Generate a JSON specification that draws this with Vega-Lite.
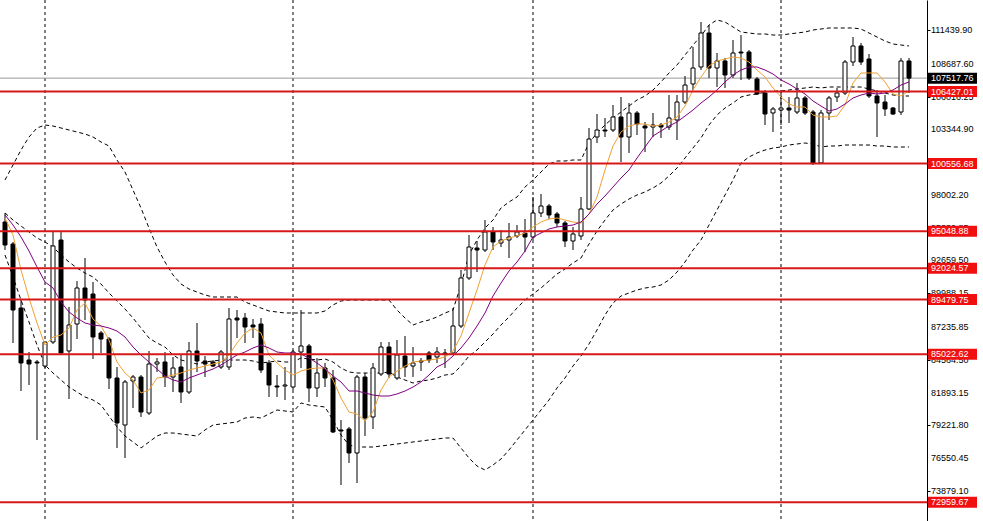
{
"$schema":"https://vega.github.io/schema/vega-lite/v6.json",
"width":927,"height":521,"padding":{"left":0,"top":0,"right":56,"bottom":0},"autosize":{"type":"none"},
"background":"white",
"config":{"view":{"stroke":null},"scale":{"continuousPadding":0},
 "axis":{"labelOverlap":false,"tickColor":"black","tickSize":3,"domainColor":"black","grid":false,"title":null}},
"datasets":{
"c":[
{"i":0,"o":95795,"h":96529,"l":93514,"c":93921,"f":96121,"s":96366,"u":99218,"m":96529,"d":93107},
{"i":1,"o":94003,"h":94166,"l":85936,"c":88625,"f":94736,"s":95551,"u":100440,"m":95958,"d":91314},
{"i":2,"o":88788,"h":89440,"l":82025,"c":84307,"f":91884,"s":94573,"u":101662,"m":95470,"d":89440},
{"i":3,"o":84551,"h":85203,"l":82514,"c":84225,"f":89603,"s":93433,"u":102721,"m":94981,"d":87648},
{"i":4,"o":84388,"h":84551,"l":78033,"c":84307,"f":87566,"s":92129,"u":103455,"m":94492,"d":85773},
{"i":5,"o":84062,"h":86018,"l":83899,"c":86018,"f":85773,"s":90907,"u":103699,"m":94166,"d":84144},
{"i":6,"o":86018,"h":94981,"l":85855,"c":93840,"f":86425,"s":90418,"u":103618,"m":93758,"d":83492},
{"i":7,"o":94329,"h":94981,"l":84959,"c":85122,"f":86588,"s":89277,"u":103455,"m":93107,"d":82922},
{"i":8,"o":85285,"h":88870,"l":81373,"c":87403,"f":87159,"s":88462,"u":103292,"m":92536,"d":82351},
{"i":9,"o":87484,"h":90988,"l":86262,"c":90418,"f":88625,"s":87973,"u":103129,"m":92047,"d":81944},
{"i":10,"o":90418,"h":92862,"l":87810,"c":89440,"f":89196,"s":87566,"u":102966,"m":91640,"d":81536},
{"i":11,"o":89929,"h":90907,"l":84633,"c":86425,"f":87892,"s":87403,"u":102721,"m":91314,"d":81292},
{"i":12,"o":86751,"h":86914,"l":85122,"c":86262,"f":87322,"s":87322,"u":102314,"m":90744,"d":80885},
{"i":13,"o":86262,"h":86425,"l":82188,"c":83085,"f":86181,"s":87159,"u":101988,"m":90011,"d":79988},
{"i":14,"o":83085,"h":83981,"l":77381,"c":79418,"f":84388,"s":86914,"u":100847,"m":89359,"d":79092},
{"i":15,"o":79255,"h":82922,"l":76566,"c":82759,"f":83492,"s":86425,"u":99869,"m":88707,"d":78359},
{"i":16,"o":82840,"h":83329,"l":80640,"c":83166,"f":82922,"s":85610,"u":98403,"m":87973,"d":77870},
{"i":17,"o":83166,"h":83329,"l":79907,"c":80314,"f":81862,"s":84959,"u":96936,"m":87159,"d":77381},
{"i":18,"o":80233,"h":85285,"l":80070,"c":84225,"f":82107,"s":84388,"u":95307,"m":86344,"d":77870},
{"i":19,"o":84225,"h":84714,"l":83573,"c":84388,"f":83085,"s":83818,"u":93758,"m":85936,"d":78359},
{"i":20,"o":84388,"h":85203,"l":82351,"c":83166,"f":83166,"s":83248,"u":92536,"m":85610,"d":78603},
{"i":21,"o":83166,"h":84796,"l":81944,"c":83899,"f":83329,"s":82922,"u":91477,"m":84959,"d":78603},
{"i":22,"o":83981,"h":84959,"l":81048,"c":81944,"f":83492,"s":82759,"u":90744,"m":84551,"d":78522},
{"i":23,"o":81944,"h":86018,"l":81781,"c":85285,"f":83736,"s":83085,"u":90336,"m":84388,"d":78440},
{"i":24,"o":85285,"h":87566,"l":83573,"c":84470,"f":83899,"s":83329,"u":90092,"m":84225,"d":78359},
{"i":25,"o":84470,"h":84877,"l":83166,"c":84225,"f":84062,"s":83573,"u":89847,"m":84388,"d":78848},
{"i":26,"o":84388,"h":84551,"l":83981,"c":84062,"f":84225,"s":83818,"u":89684,"m":84470,"d":79255},
{"i":27,"o":83981,"h":85366,"l":83818,"c":85203,"f":84388,"s":84144,"u":89684,"m":84551,"d":79336},
{"i":28,"o":83981,"h":88788,"l":83736,"c":87892,"f":84959,"s":84551,"u":89684,"m":84551,"d":79418},
{"i":29,"o":87973,"h":88625,"l":86344,"c":87810,"f":85936,"s":84959,"u":89684,"m":84551,"d":79499},
{"i":30,"o":87973,"h":88381,"l":85936,"c":87240,"f":86751,"s":85203,"u":89277,"m":84551,"d":79825},
{"i":31,"o":87403,"h":87892,"l":86344,"c":87240,"f":87159,"s":85529,"u":89033,"m":84470,"d":79907},
{"i":32,"o":87484,"h":87973,"l":83492,"c":83736,"f":86751,"s":85773,"u":88788,"m":84307,"d":79825},
{"i":33,"o":84307,"h":84551,"l":81536,"c":82514,"f":84959,"s":85529,"u":88544,"m":84388,"d":80151},
{"i":34,"o":82433,"h":83329,"l":81536,"c":82351,"f":84307,"s":85203,"u":88462,"m":84470,"d":80477},
{"i":35,"o":82433,"h":83981,"l":81292,"c":82514,"f":83736,"s":85122,"u":88381,"m":84388,"d":80396},
{"i":36,"o":82351,"h":85366,"l":82107,"c":85203,"f":83329,"s":85122,"u":88381,"m":84388,"d":80314},
{"i":37,"o":85203,"h":88625,"l":83899,"c":85692,"f":83655,"s":85040,"u":88381,"m":84714,"d":81048},
{"i":38,"o":85692,"h":85855,"l":81129,"c":82270,"f":83818,"s":84714,"u":88381,"m":84633,"d":80885},
{"i":39,"o":82270,"h":84714,"l":81536,"c":83492,"f":83899,"s":84307,"u":88381,"m":84551,"d":80803},
{"i":40,"o":83899,"h":84307,"l":82351,"c":83085,"f":83899,"s":83818,"u":88544,"m":84633,"d":80722},
{"i":41,"o":83085,"h":83736,"l":78603,"c":78685,"f":82922,"s":83248,"u":89033,"m":84388,"d":79662},
{"i":42,"o":78848,"h":79662,"l":74366,"c":78766,"f":81455,"s":82759,"u":89359,"m":83899,"d":78440},
{"i":43,"o":78929,"h":79092,"l":76159,"c":76974,"f":80314,"s":82025,"u":89440,"m":83573,"d":77625},
{"i":44,"o":76974,"h":83329,"l":74529,"c":83166,"f":80151,"s":82025,"u":89440,"m":83492,"d":77462},
{"i":45,"o":83166,"h":83492,"l":78359,"c":79825,"f":79581,"s":81862,"u":89440,"m":83492,"d":77462},
{"i":46,"o":79907,"h":84307,"l":78929,"c":83899,"f":80314,"s":81699,"u":89440,"m":83492,"d":77462},
{"i":47,"o":83410,"h":86018,"l":83248,"c":85610,"f":82107,"s":81618,"u":89440,"m":83492,"d":77544},
{"i":48,"o":85610,"h":86018,"l":83085,"c":83410,"f":83166,"s":81618,"u":89440,"m":83573,"d":77625},
{"i":49,"o":83085,"h":86181,"l":82922,"c":84959,"f":83655,"s":81781,"u":88625,"m":83166,"d":77707},
{"i":50,"o":84877,"h":86507,"l":83166,"c":83981,"f":84062,"s":82025,"u":87973,"m":82922,"d":77788},
{"i":51,"o":84062,"h":85610,"l":83166,"c":84307,"f":84388,"s":82351,"u":87403,"m":82677,"d":77870},
{"i":52,"o":84388,"h":84714,"l":83655,"c":84470,"f":84470,"s":82759,"u":87648,"m":82840,"d":77951},
{"i":53,"o":85122,"h":85285,"l":84307,"c":84551,"f":84551,"s":83329,"u":87810,"m":82922,"d":78033},
{"i":54,"o":84796,"h":85610,"l":84307,"c":85203,"f":84633,"s":83981,"u":88055,"m":83085,"d":78114},
{"i":55,"o":85122,"h":85447,"l":83899,"c":85040,"f":84796,"s":84307,"u":88381,"m":83329,"d":78196},
{"i":56,"o":85122,"h":88788,"l":84959,"c":87322,"f":85285,"s":84877,"u":88625,"m":83410,"d":78196},
{"i":57,"o":87322,"h":91884,"l":87159,"c":91233,"f":86507,"s":85529,"u":90662,"m":84062,"d":77381},
{"i":58,"o":91233,"h":94736,"l":91070,"c":93758,"f":88381,"s":86344,"u":93107,"m":84877,"d":76566},
{"i":59,"o":93677,"h":94247,"l":91721,"c":93514,"f":90255,"s":87322,"u":94329,"m":85366,"d":75915},
{"i":60,"o":93514,"h":95958,"l":93351,"c":94981,"f":92292,"s":88381,"u":95307,"m":86018,"d":75588},
{"i":61,"o":94981,"h":95388,"l":93514,"c":94166,"f":93758,"s":89766,"u":95958,"m":86670,"d":75996},
{"i":62,"o":94084,"h":95144,"l":93758,"c":94329,"f":94247,"s":90825,"u":96936,"m":87403,"d":76485},
{"i":63,"o":94329,"h":95714,"l":92862,"c":94573,"f":94492,"s":91803,"u":97425,"m":88055,"d":77218},
{"i":64,"o":94655,"h":95551,"l":94492,"c":94981,"f":94655,"s":92536,"u":97832,"m":88788,"d":78033},
{"i":65,"o":94899,"h":96040,"l":93351,"c":94573,"f":94899,"s":93433,"u":98647,"m":89440,"d":78848},
{"i":66,"o":94573,"h":97832,"l":94329,"c":96529,"f":95388,"s":94573,"u":99218,"m":89929,"d":79662},
{"i":67,"o":96529,"h":98077,"l":96203,"c":97099,"f":95795,"s":94899,"u":99869,"m":90418,"d":80477},
{"i":68,"o":97099,"h":97262,"l":96040,"c":96366,"f":96040,"s":95225,"u":100521,"m":90988,"d":81292},
{"i":69,"o":96448,"h":96610,"l":95388,"c":95714,"f":96121,"s":95388,"u":100766,"m":91558,"d":82270},
{"i":70,"o":95714,"h":95877,"l":93758,"c":94247,"f":95958,"s":95470,"u":100766,"m":91966,"d":83085},
{"i":71,"o":94247,"h":95388,"l":93514,"c":94818,"f":95795,"s":95551,"u":100847,"m":92455,"d":84062},
{"i":72,"o":94655,"h":97832,"l":94329,"c":96855,"f":95714,"s":95795,"u":100847,"m":92862,"d":84877},
{"i":73,"o":96855,"h":103455,"l":96773,"c":102558,"f":96448,"s":96448,"u":102232,"m":94003,"d":85855},
{"i":74,"o":102721,"h":104595,"l":102232,"c":103292,"f":97832,"s":97262,"u":103047,"m":95063,"d":86996},
{"i":75,"o":103292,"h":104269,"l":102721,"c":103210,"f":100032,"s":97914,"u":103699,"m":95958,"d":88218},
{"i":76,"o":103292,"h":105329,"l":103129,"c":104351,"f":101988,"s":98647,"u":104269,"m":96773,"d":89196},
{"i":77,"o":104351,"h":105980,"l":100684,"c":102721,"f":103129,"s":99381,"u":104758,"m":97262,"d":89766},
{"i":78,"o":102721,"h":105492,"l":101418,"c":104677,"f":103618,"s":100032,"u":105247,"m":97669,"d":90011},
{"i":79,"o":104677,"h":104840,"l":102884,"c":103780,"f":103780,"s":101010,"u":105736,"m":97995,"d":90255},
{"i":80,"o":103618,"h":103943,"l":101499,"c":103455,"f":103780,"s":101906,"u":106062,"m":98240,"d":90418},
{"i":81,"o":103536,"h":104677,"l":102721,"c":103699,"f":103618,"s":102803,"u":106551,"m":98566,"d":90499},
{"i":82,"o":103699,"h":103862,"l":102640,"c":103536,"f":103699,"s":103210,"u":107203,"m":98973,"d":90662},
{"i":83,"o":103536,"h":106143,"l":103292,"c":104269,"f":103943,"s":103618,"u":107936,"m":99544,"d":91070},
{"i":84,"o":104106,"h":106143,"l":102477,"c":105573,"f":104351,"s":103943,"u":108588,"m":100196,"d":91721},
{"i":85,"o":105573,"h":107692,"l":105410,"c":106958,"f":105247,"s":104432,"u":109403,"m":101010,"d":92536},
{"i":86,"o":107040,"h":110054,"l":106551,"c":108343,"f":106551,"s":104921,"u":110217,"m":101825,"d":93514},
{"i":87,"o":108425,"h":112091,"l":108180,"c":111195,"f":107610,"s":105492,"u":110951,"m":102640,"d":94329},
{"i":88,"o":111195,"h":111847,"l":107529,"c":108343,"f":108506,"s":105980,"u":111847,"m":103699,"d":95551},
{"i":89,"o":108343,"h":109566,"l":106795,"c":108914,"f":108914,"s":106551,"u":112254,"m":104514,"d":96773},
{"i":90,"o":108914,"h":109158,"l":106714,"c":107773,"f":109077,"s":107203,"u":112091,"m":105084,"d":97995},
{"i":91,"o":107773,"h":110625,"l":107529,"c":109566,"f":109240,"s":107773,"u":111684,"m":105492,"d":99218},
{"i":92,"o":109647,"h":111032,"l":107366,"c":109566,"f":109158,"s":108180,"u":111277,"m":105980,"d":100603},
{"i":93,"o":109647,"h":109810,"l":107366,"c":107529,"f":108832,"s":108425,"u":111195,"m":106143,"d":101092},
{"i":94,"o":107447,"h":107610,"l":106143,"c":106225,"f":108180,"s":108425,"u":111114,"m":106225,"d":101418},
{"i":95,"o":106306,"h":106551,"l":103699,"c":104595,"f":107610,"s":108180,"u":111114,"m":106388,"d":101662},
{"i":96,"o":104677,"h":105166,"l":103129,"c":105003,"f":106714,"s":107854,"u":111032,"m":106469,"d":101825},
{"i":97,"o":104921,"h":106388,"l":103699,"c":105084,"f":105980,"s":107366,"u":111032,"m":106469,"d":101906},
{"i":98,"o":105084,"h":105980,"l":103862,"c":104921,"f":105410,"s":107040,"u":111114,"m":106551,"d":102069},
{"i":99,"o":104758,"h":107121,"l":104595,"c":105899,"f":105166,"s":106632,"u":111195,"m":106632,"d":102151},
{"i":100,"o":105899,"h":106062,"l":104514,"c":104677,"f":105166,"s":106225,"u":111277,"m":106714,"d":102232},
{"i":101,"o":104758,"h":104921,"l":100440,"c":100603,"f":104514,"s":105655,"u":111440,"m":106795,"d":102151},
{"i":102,"o":100603,"h":104921,"l":100521,"c":104677,"f":104351,"s":105247,"u":111521,"m":106714,"d":101906},
{"i":103,"o":104677,"h":106062,"l":104106,"c":105899,"f":104351,"s":104840,"u":111603,"m":106795,"d":101988},
{"i":104,"o":105980,"h":106714,"l":105573,"c":106306,"f":104432,"s":105003,"u":111603,"m":106795,"d":101988},
{"i":105,"o":106306,"h":108995,"l":106143,"c":108832,"f":105329,"s":105410,"u":111603,"m":106795,"d":102069},
{"i":106,"o":108832,"h":110869,"l":108506,"c":110136,"f":107121,"s":105899,"u":111603,"m":106795,"d":102069},
{"i":107,"o":110136,"h":110380,"l":108588,"c":108832,"f":107936,"s":106143,"u":111521,"m":106795,"d":102069},
{"i":108,"o":109077,"h":109484,"l":105899,"c":106062,"f":107936,"s":106306,"u":111195,"m":106632,"d":102069},
{"i":109,"o":106062,"h":106551,"l":102721,"c":105492,"f":107936,"s":106225,"u":110869,"m":106469,"d":101988},
{"i":110,"o":105573,"h":106143,"l":104432,"c":105003,"f":107203,"s":106306,"u":110543,"m":106306,"d":101988},
{"i":111,"o":105084,"h":105166,"l":104514,"c":104595,"f":106225,"s":106551,"u":110299,"m":106143,"d":101906},
{"i":112,"o":104758,"h":109158,"l":104514,"c":108914,"f":106062,"s":106958,"u":110217,"m":106062,"d":101906},
{"i":113,"o":108914,"h":109158,"l":106306,"c":107517.76,"f":106469,"s":107203,"u":110136,"m":106062,"d":101906}
],
"sep":[{"i":5},{"i":36},{"i":66},{"i":97}],
"tk":[{"v":73879.10},{"v":76550.45},{"v":79221.80},{"v":81893.15},{"v":84564.50},{"v":87235.85},{"v":89988.15},{"v":92659.50},{"v":95330.85},{"v":98002.20},{"v":100673.55},{"v":103344.90},{"v":106016.25},{"v":108687.60},{"v":111439.90}],
"lv":[{"v":106427.01},{"v":100556.68},{"v":95048.88},{"v":92024.57},{"v":89479.75},{"v":85022.62},{"v":72959.67}],
"px":[{"v":107517.76}]
},
"layer":[
{"data":{"name":"sep"},"mark":{"type":"rule","color":"black","strokeWidth":1,"strokeDash":[3,3]},
 "encoding":{"x":{"field":"i","type":"quantitative","scale":{"domain":[-0.625,115.25],"nice":false,"zero":false,"padding":0},"axis":null}}},
{"data":{"name":"px"},"mark":{"type":"rule","color":"#9a9a9a","strokeWidth":1},
 "encoding":{"y":{"field":"v","type":"quantitative","title":null,"scale":{"domain":[71433,113884],"nice":false,"zero":false,"padding":0},
  "axis":{"orient":"right","title":null,"values":[73879.10,76550.45,79221.80,81893.15,84564.50,87235.85,89988.15,92659.50,95330.85,98002.20,100673.55,103344.90,106016.25,108687.60,111439.90],
  "labels":false,"zindex":0}}}},
{"data":{"name":"c"},"mark":{"type":"line","color":"black","strokeWidth":1,"strokeDash":[4,3]},
 "encoding":{"x":{"field":"i","type":"quantitative","axis":null},
 "y":{"field":"u","type":"quantitative","title":null}}},
{"data":{"name":"c"},"mark":{"type":"line","color":"black","strokeWidth":1,"strokeDash":[4,3]},
 "encoding":{"x":{"field":"i","type":"quantitative","axis":null},
 "y":{"field":"m","type":"quantitative","title":null}}},
{"data":{"name":"c"},"mark":{"type":"line","color":"black","strokeWidth":1,"strokeDash":[4,3]},
 "encoding":{"x":{"field":"i","type":"quantitative","axis":null},
 "y":{"field":"d","type":"quantitative","title":null}}},
{"data":{"name":"c"},"mark":{"type":"rule","color":"black","strokeWidth":1},
 "encoding":{"x":{"field":"i","type":"quantitative","axis":null},
 "y":{"field":"l","type":"quantitative","title":null},
 "y2":{"field":"h"}}},
{"data":{"name":"c"},"mark":{"type":"bar","size":4,"stroke":"black","strokeWidth":1},
 "encoding":{"x":{"field":"i","type":"quantitative","axis":null},
 "y":{"field":"o","type":"quantitative","title":null},
 "y2":{"field":"c"},
 "fill":{"condition":{"test":"datum.c >= datum.o","value":"white"},"value":"black"}}},
{"data":{"name":"c"},"mark":{"type":"line","color":"#f0a030","strokeWidth":1},
 "encoding":{"x":{"field":"i","type":"quantitative","axis":null},
 "y":{"field":"f","type":"quantitative","title":null}}},
{"data":{"name":"c"},"mark":{"type":"line","color":"#800080","strokeWidth":1},
 "encoding":{"x":{"field":"i","type":"quantitative","axis":null},
 "y":{"field":"s","type":"quantitative","title":null}}},
{"data":{"name":"lv"},"mark":{"type":"rule","color":"#d81818","strokeWidth":2},
 "encoding":{"y":{"field":"v","type":"quantitative","title":null}}},
{"data":{"name":"tk"},"mark":{"type":"text","align":"left","baseline":"middle","color":"black","font":"Liberation Sans","fontSize":9},
 "encoding":{"x":{"datum":115.75,"type":"quantitative","axis":null},
 "y":{"field":"v","type":"quantitative","title":null},
 "text":{"field":"v","type":"quantitative","format":".2f"}}},
{"data":{"name":"lv"},"mark":{"type":"bar","size":11,"color":"#f01010"},
 "encoding":{"x":{"datum":115.375,"type":"quantitative","axis":null},
 "x2":{"datum":121.5},
 "y":{"field":"v","type":"quantitative","title":null}}},
{"data":{"name":"px"},"mark":{"type":"bar","size":11,"color":"black"},
 "encoding":{"x":{"datum":115.375,"type":"quantitative","axis":null},
 "x2":{"datum":121.5},
 "y":{"field":"v","type":"quantitative","title":null}}},
{"data":{"name":"lv"},"mark":{"type":"text","align":"left","baseline":"middle","color":"white","font":"Liberation Sans","fontSize":9},
 "encoding":{"x":{"datum":115.75,"type":"quantitative","axis":null},
 "y":{"field":"v","type":"quantitative","title":null},
 "text":{"field":"v","type":"quantitative","format":".2f"}}},
{"data":{"name":"px"},"mark":{"type":"text","align":"left","baseline":"middle","color":"white","font":"Liberation Sans","fontSize":9},
 "encoding":{"x":{"datum":115.75,"type":"quantitative","axis":null},
 "y":{"field":"v","type":"quantitative","title":null},
 "text":{"field":"v","type":"quantitative","format":".2f"}}}
]
}
